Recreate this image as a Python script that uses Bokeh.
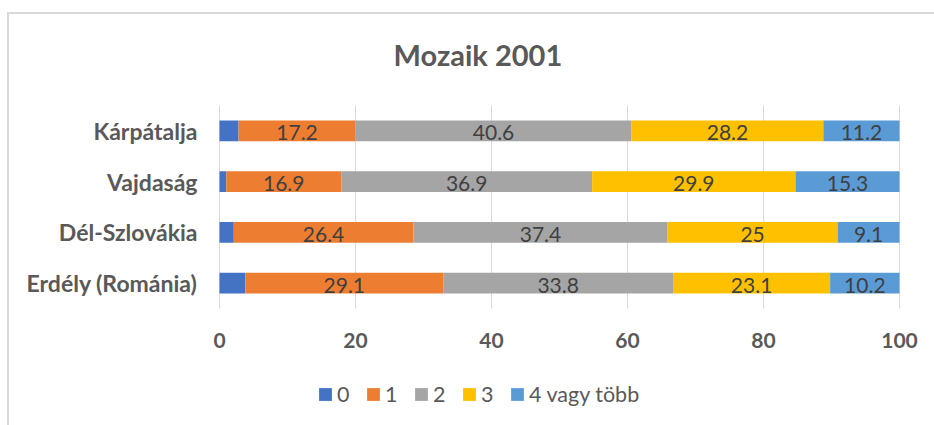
from bokeh.plotting import figure
from bokeh.models import (Range1d, Legend, LegendItem, Label,
                          ColumnDataSource, FixedTicker)
from bokeh.core.properties import value
from bokeh.embed import file_html
from bokeh.resources import INLINE

# ---- data ----
regions = ["Kárpátalja", "Vajdaság", "Dél-Szlovákia", "Erdély (Románia)"]
series = ["0", "1", "2", "3", "4 vagy több"]
v0 = [2.8, 1.0, 2.1, 3.8]
v1 = [17.2, 16.9, 26.4, 29.1]
v2 = [40.6, 36.9, 37.4, 33.8]
v3 = [28.2, 29.9, 25.0, 23.1]
v4 = [11.2, 15.3, 9.1, 10.2]
x_ticks = [0, 20, 40, 60, 80, 100]
title_text = "Mozaik 2001"

colors = ["#4472C4", "#ED7D31", "#A5A5A5", "#FFC000", "#5B9BD5"]
FONT = "Lato"
GREY = "#595959"

W, H = 934, 425
PLOT_TOP = 105          # pixel row of the top of the category area
BAND = 50.75            # pixels per category band
X0_PX, X100_PX = 219, 899   # pixel columns of value 0 and value 100
FRAME_LEFT = 200
n = len(regions)
px_per_unit = (X100_PX - X0_PX) / 100.0

values = [v0, v1, v2, v3, v4]
ypos = [n - i - 0.5 for i in range(n)]
data = {"region": regions, "ypos": ypos}
for s, v in zip(series, values):
    data[s] = v
source = ColumnDataSource(data)

y_end = n + PLOT_TOP / BAND
y_start = n - (H - PLOT_TOP) / BAND
x_start = -(X0_PX - FRAME_LEFT) / px_per_unit
x_end = (W - X0_PX) / px_per_unit

p = figure(width=W, height=H,
           x_range=Range1d(x_start, x_end), y_range=Range1d(y_start, y_end),
           output_backend="svg", toolbar_location=None,
           min_border_left=FRAME_LEFT, min_border_right=0,
           min_border_top=0, min_border_bottom=0)
p.outline_line_color = None
p.background_fill_alpha = 0
p.border_fill_alpha = 0
p.styles = {
    "background": "linear-gradient(#D9D9D9,#D9D9D9) 7px 12px / 2px 100% no-repeat, "
                  "linear-gradient(#D9D9D9,#D9D9D9) 7px 12px / 100% 2px no-repeat, white"
}
p.xgrid.visible = False
p.ygrid.visible = False

# vertical gridlines spanning the category area only
p.segment(x0=x_ticks, x1=x_ticks, y0=[0] * len(x_ticks), y1=[n] * len(x_ticks),
          line_color="#D9D9D9", line_width=1)

renderers = p.hbar_stack(series, y="ypos", height=0.41, color=colors,
                         line_color=None, source=source)

# data labels (all series except "0")
lx, ly, lt = [], [], []
for i in range(n):
    left = 0.0
    for k, v in enumerate(values):
        if k > 0:
            lx.append(left + v[i] / 2.0)
            ly.append(ypos[i])
            lt.append(f"{v[i]:g}")
        left += v[i]
lsrc = ColumnDataSource(dict(x=lx, y=ly, t=lt))
p.text(x="x", y="y", text="t", source=lsrc, text_align="center",
       text_baseline="middle", text_font=value(FONT), text_font_size="21px",
       text_color="#404040", y_offset=2)

# axes
p.xaxis.ticker = FixedTicker(ticks=x_ticks)
p.xaxis.fixed_location = 0
p.yaxis.ticker = FixedTicker(ticks=ypos)
p.yaxis.major_label_overrides = {y: r for y, r in zip(ypos, regions)}
for ax in (p.xaxis, p.yaxis):
    ax.axis_line_color = None
    ax.major_tick_line_color = None
    ax.minor_tick_line_color = None
    ax.major_tick_out = 0
    ax.major_tick_in = 0
    ax.major_label_text_font = FONT
    ax.major_label_text_font_style = "bold"
    ax.major_label_text_color = GREY
p.xaxis.major_label_text_font_size = "21px"
p.xaxis.major_label_standoff = 24
p.yaxis.major_label_text_font_size = "23px"
p.yaxis.major_label_standoff = 3

# title
p.add_layout(Label(x=38.0, y=n + 51 / BAND, text=title_text, text_align="center",
                   text_baseline="middle", text_font=FONT,
                   text_font_style="bold", text_font_size="29px",
                   text_color=GREY))

# legend
legend = Legend(items=[LegendItem(label=s, renderers=[r]) for s, r in zip(series, renderers)],
                orientation="horizontal", location=(117, 18),
                glyph_width=16, glyph_height=16, label_standoff=4, spacing=8,
                label_width=20, padding=0, margin=0, border_line_color=None,
                background_fill_alpha=0, label_text_font=FONT,
                label_text_font_size="21.5px", label_text_color=GREY)
p.add_layout(legend, "center")

open("out.html", "w").write(file_html(p, INLINE))
